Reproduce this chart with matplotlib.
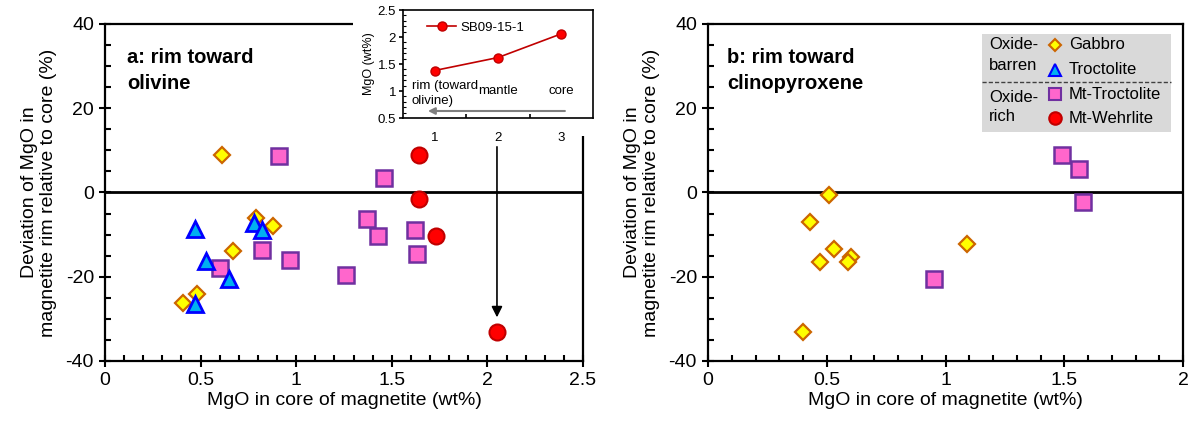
import matplotlib
matplotlib.use('Agg')
import matplotlib.pyplot as plt
from matplotlib.patches import Rectangle
from matplotlib.ticker import MultipleLocator

plt.rcParams['font.family'] = ['Liberation Sans', 'DejaVu Sans']
plt.rcParams['axes.unicode_minus'] = False

# panel a: rim toward olivine
a_gab_x = [0.61, 0.79, 0.88, 0.67, 0.48, 0.41]
a_gab_y = [9.0, -6.0, -8.0, -13.8, -24.0, -26.3]
a_tro_x = [0.47, 0.53, 0.65, 0.47, 0.78, 0.82]
a_tro_y = [-8.6, -16.3, -20.5, -26.5, -7.2, -9.0]
a_mtt_x = [0.91, 1.46, 0.60, 0.82, 0.97, 1.26, 1.37, 1.43, 1.62, 1.63]
a_mtt_y = [8.7, 3.5, -17.9, -13.7, -16.0, -19.5, -6.3, -10.3, -9.0, -14.7]
a_mtw_x = [1.64, 1.64, 1.73, 2.05]
a_mtw_y = [8.8, -1.5, -10.4, -33.0]

# panel b: rim toward clinopyroxene
b_gab_x = [0.51, 0.43, 0.53, 0.47, 0.60, 0.59, 1.09, 0.40]
b_gab_y = [-0.7, -7.0, -13.3, -16.6, -15.2, -16.6, -12.2, -33.2]
b_mtt_x = [1.49, 1.56, 1.58, 0.95]
b_mtt_y = [8.8, 5.5, -2.2, -20.6]

# inset profile
ins_x = [1, 2, 3]
ins_y = [1.38, 1.62, 2.06]
ins_lab = ['rim (toward\nolivine)', 'mantle', 'core']

styles = {
    'Gabbro': dict(marker='D', ms=8.5, mfc='#FFFF00', mec='#CC6600', mew=1.6),
    'Troctolite': dict(marker='^', ms=11.5, mfc='#00B0F0', mec='#0000FF', mew=2),
    'Mt-Troctolite': dict(marker='s', ms=11, mfc='#FF66CC', mec='#7030A0', mew=1.8),
    'Mt-Wehrlite': dict(marker='o', ms=11.5, mfc='#FF0000', mec='#C00000', mew=1.5),
}

fig = plt.figure(figsize=(11.92, 4.23), dpi=100)
axA = fig.add_axes([0.0881, 0.1466, 0.4010, 0.7967])
axB = fig.add_axes([0.5940, 0.1466, 0.3985, 0.7967])


def style_axes(ax, xmax, xmaj):
    ax.set_xlim(0, xmax)
    ax.set_ylim(-40, 40)
    ax.xaxis.set_major_locator(MultipleLocator(xmaj))
    ax.xaxis.set_minor_locator(MultipleLocator(0.1))
    ax.yaxis.set_major_locator(MultipleLocator(20))
    ax.yaxis.set_minor_locator(MultipleLocator(5))
    ax.tick_params(which='major', direction='inout', length=9, width=1.5, labelsize=14)
    ax.tick_params(which='minor', direction='in', length=4.5, width=1.5)
    ax.xaxis.set_major_formatter(plt.FuncFormatter(lambda v, p: '%g' % v))
    for s in ax.spines.values():
        s.set_linewidth(1.6)
    ax.axhline(0, color='black', lw=2, zorder=1)
    ax.set_xlabel('MgO in core of magnetite (wt%)', fontsize=14, labelpad=2)
    ax.set_ylabel('Deviation of MgO in\nmagnetite rim relative to core (%)', fontsize=14, labelpad=6)


style_axes(axA, 2.5, 0.5)
style_axes(axB, 2.0, 0.5)

axA.plot(a_gab_x, a_gab_y, ls='none', zorder=3, **styles['Gabbro'])
axA.plot(a_tro_x, a_tro_y, ls='none', zorder=4, **styles['Troctolite'])
axA.plot(a_mtt_x, a_mtt_y, ls='none', zorder=3, **styles['Mt-Troctolite'])
axA.plot(a_mtw_x, a_mtw_y, ls='none', zorder=3, **styles['Mt-Wehrlite'])
axA.annotate('', xy=(2.05, -30.3), xytext=(2.05, 11.5),
             arrowprops=dict(arrowstyle='-|>', color='black', lw=1.2, mutation_scale=16))
axA.text(0.046, 0.93, 'a: rim toward\nolivine', transform=axA.transAxes, fontsize=14.5,
         fontweight='bold', va='top', ha='left', linespacing=1.5)

axB.plot(b_gab_x, b_gab_y, ls='none', zorder=3, **styles['Gabbro'])
axB.plot(b_mtt_x, b_mtt_y, ls='none', zorder=3, **styles['Mt-Troctolite'])
axB.text(0.040, 0.93, 'b: rim toward\nclinopyroxene', transform=axB.transAxes, fontsize=14.5,
         fontweight='bold', va='top', ha='left', linespacing=1.5)

# hand-made legend box in panel b
axB.add_patch(Rectangle((0.577, 0.680), 0.398, 0.290, transform=axB.transAxes,
                        facecolor='#D9D9D9', edgecolor='none', zorder=5))
axB.plot([0.577, 0.975], [0.828, 0.828], transform=axB.transAxes, color='#404040',
         ls=(0, (3, 1.5)), lw=1, zorder=6)
leg_rows = [('Gabbro', 0.938, 6.5), ('Troctolite', 0.864, 8.5),
            ('Mt-Troctolite', 0.792, 8), ('Mt-Wehrlite', 0.721, 9)]
for name, yy, ms in leg_rows:
    st = dict(styles[name])
    st['ms'] = ms
    st['mew'] = 1.5
    axB.plot([0.731], [yy], transform=axB.transAxes, ls='none', zorder=6, clip_on=False, **st)
    axB.text(0.760, yy, name, transform=axB.transAxes, fontsize=12, va='center', zorder=6)
for txt, yy in [('Oxide-', 0.938), ('barren', 0.878), ('Oxide-', 0.783), ('rich', 0.724)]:
    axB.text(0.592, yy, txt, transform=axB.transAxes, fontsize=12, va='center', zorder=6)

# white backdrop for the inset
fig.add_artist(Rectangle((353 / 1192, 1 - 136 / 423), (600 - 353) / 1192, 136 / 423,
                         transform=fig.transFigure, facecolor='white', edgecolor='none', zorder=1))

ins = fig.add_axes([0.3381, 0.7210, 0.1594, 0.2553])
ins.set_zorder(2)
ins.plot(ins_x, ins_y, color='#C00000', lw=1.2, marker='o', ms=6.5, mfc='#FF0000',
         mec='#C00000', mew=1, label='SB09-15-1')
ins.set_xlim(0.5, 3.5)
ins.set_ylim(0.5, 2.5)
ins.set_xticks(ins_x)
ins.set_xticks([1.5, 2.5], minor=True)
ins.yaxis.set_major_locator(MultipleLocator(0.5))
ins.yaxis.set_minor_locator(MultipleLocator(0.1))
ins.yaxis.set_major_formatter(plt.FuncFormatter(lambda v, p: '%g' % v))
ins.tick_params(axis='x', which='major', length=0, labelsize=9.5, pad=10)
ins.tick_params(axis='x', which='minor', direction='in', length=3, width=1.2)
ins.tick_params(axis='y', which='major', direction='out', length=3, width=1.2, labelsize=9.5, pad=2)
ins.tick_params(axis='y', which='minor', direction='in', length=2, width=0.8)
for s in ins.spines.values():
    s.set_linewidth(1.2)
ins.set_ylabel('MgO (wt%)', fontsize=9, labelpad=2)
ins.legend(loc='upper left', frameon=False, fontsize=9.5, handlelength=2.2,
           handletextpad=0.3, borderaxespad=0.3, bbox_to_anchor=(0.08, 0.98))
ins.text(0.64, 0.95, ins_lab[0], fontsize=9.5, ha='left', va='center', linespacing=1.35)
ins.text(2.0, 1.0, ins_lab[1], fontsize=9.5, ha='center', va='center')
ins.text(3.0, 1.0, ins_lab[2], fontsize=9.5, ha='center', va='center')
ins.annotate('', xy=(0.85, 0.63), xytext=(3.1, 0.63),
             arrowprops=dict(arrowstyle='-|>', color='#7F7F7F', lw=1.5, mutation_scale=10))

fig.savefig('out.png', dpi=100)
